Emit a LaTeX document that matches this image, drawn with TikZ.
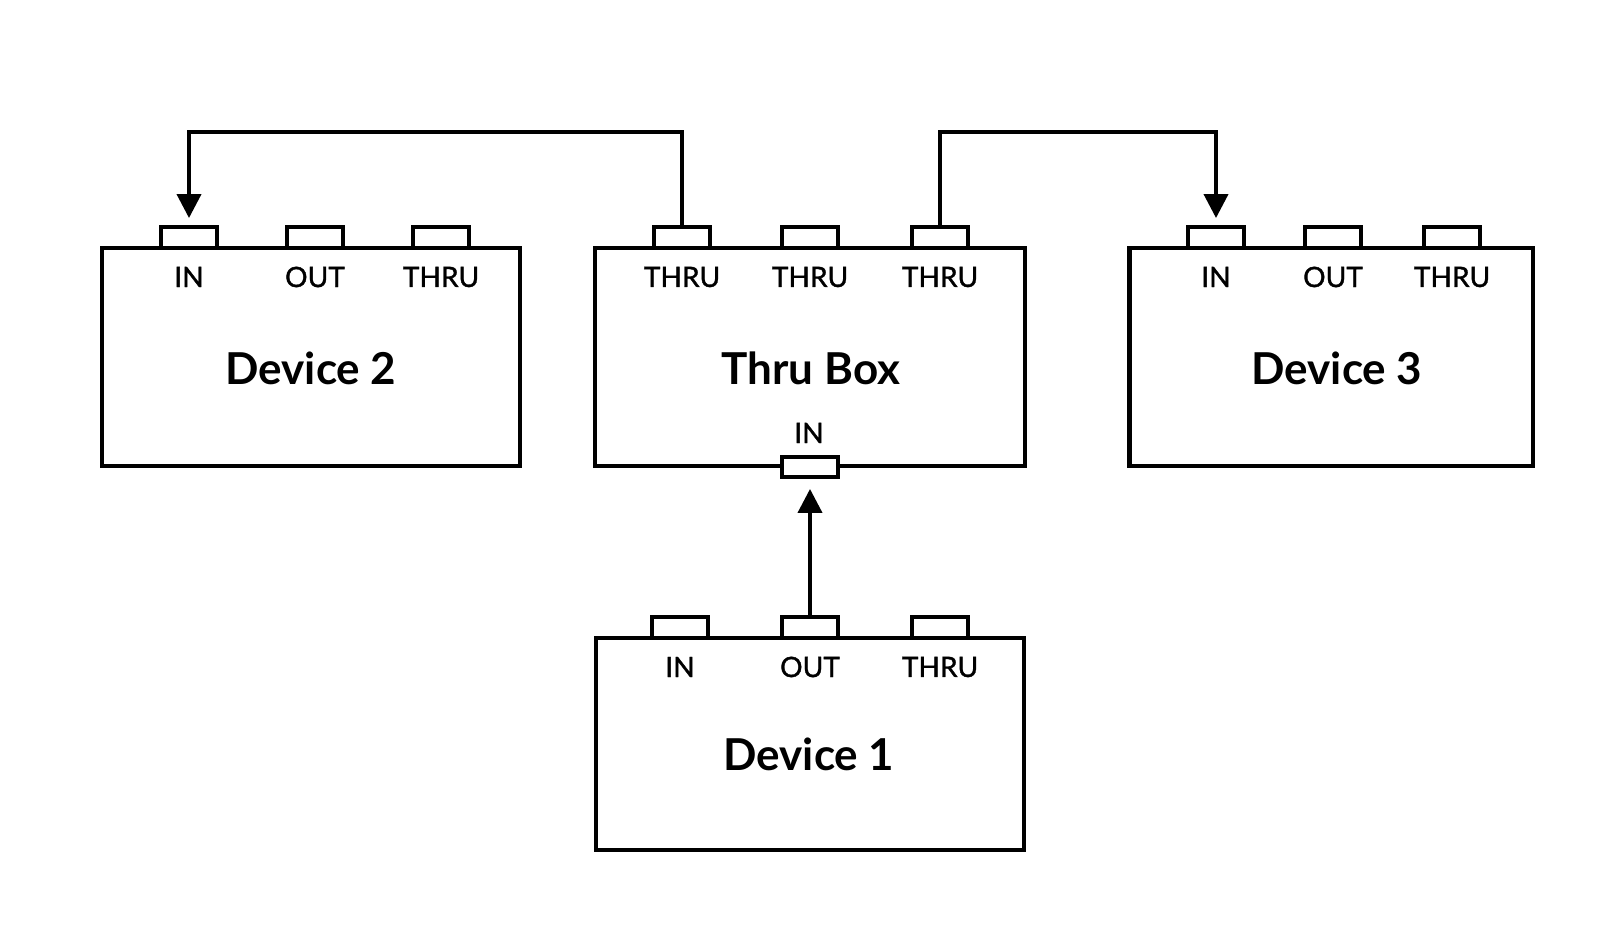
\documentclass[tikz,border=0pt]{standalone}
\usepackage{fontspec}
\setmainfont{Lato}
\newfontfamily\labelfont[FakeBold=1.2]{Lato}
\usepackage{tikz}
\usetikzlibrary{arrows.meta, positioning}

\begin{document}
\begin{tikzpicture}[
  x=0.01cm, y=-0.01cm,
  box/.style={draw, line width=1.2pt, rectangle, minimum height=2.18cm, inner sep=0pt},
  port/.style={draw, line width=1.1pt, fill=white, rectangle, minimum width=0.56cm, minimum height=0.21cm, inner sep=0pt},
  lbl/.style={font=\labelfont\fontsize{8}{9}\selectfont},
  title/.style={font=\bfseries\fontsize{12.5}{14}\selectfont},
  arrow/.style={-{Triangle[length=0.24cm, width=0.24cm]}, line width=1.1pt}
]
\useasboundingbox (0,0) rectangle (1600,931);

% boxes
\node[box, minimum width=4.18cm] (dev2) at (311,357) {};
\node[box, minimum width=4.29cm] (thru) at (810,357) {};
\node[box, minimum width=4.03cm] (dev3) at (1331,357) {};
\node[box, minimum width=4.27cm, minimum height=2.12cm] (dev1) at (810,744) {};

\node[title] (dev2t) at (311,368) {Device 2};
\node[title] (thrut) at (811,368) {Thru Box};
\node[title] (dev3t) at (1337,368) {Device 3};
\node[title] (dev1t) at (809,754) {Device 1};

% ports on top
\foreach \n/\x/\t in {d2in/189/IN, d2out/315/OUT, d2thru/441/THRU,
                      tb1/682/THRU, tb2/810/THRU, tb3/940/THRU,
                      d3in/1216/IN, d3out/1333/OUT, d3thru/1452/THRU} {
  \node[port] (\n) at (\x,237.5) {};
  \node[lbl] at (\x,277) {\t};
}
\foreach \n/\x/\t in {d1in/680/IN, d1out/810/OUT, d1thru/940/THRU} {
  \node[port] (\n) at (\x,627.5) {};
  \node[lbl] at (\x,667) {\t};
}

% input of the thru box
\node[port, minimum height=0.2cm] (tbin) at (810,467) {};
\node[lbl] (tbinl) at (809,433) {IN};

% cables
\coordinate (bus) at (0,132);
\draw[arrow, shorten >=0.1cm] (d1out.north) -- (tbin.south);
\draw[arrow, shorten >=0.07cm] (tb1.north) -- (tb1 |- bus) -| (d2in.north);
\draw[arrow, shorten >=0.07cm] (tb3.north) -- (tb3 |- bus) -| (d3in.north);
\end{tikzpicture}
\end{document}
